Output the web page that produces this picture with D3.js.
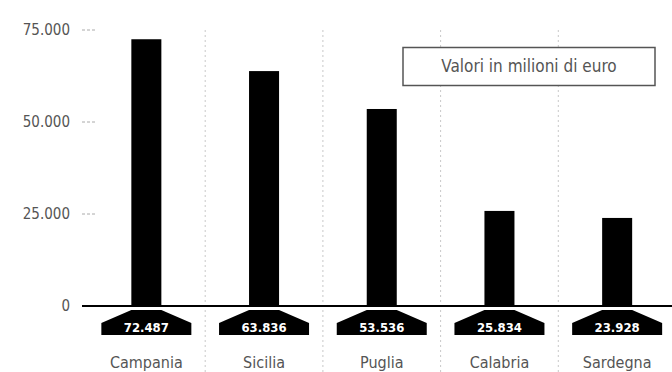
<!DOCTYPE html>
<html>
<head>
<meta charset="utf-8">
<script src="https://cdn.jsdelivr.net/npm/d3@7"></script>
<style>
  body { margin: 0; background: #fff; }
  svg { display: block; }
  text { font-family: "DejaVu Sans Condensed", "Liberation Sans Narrow", "Roboto", sans-serif; }
</style>
</head>
<body>
<div id="chart"></div>
<script>
// data
const regions = ["Campania", "Sicilia", "Puglia", "Calabria", "Sardegna"];
const values = [72487, 63836, 53536, 25834, 23928];
const valueLabels = ["72.487", "63.836", "53.536", "25.834", "23.928"];
const yTicks = [0, 25000, 50000, 75000];
const yTickLabels = ["0", "25.000", "50.000", "75.000"];
const noteText = "Valori in milioni di euro";

const width = 672;
const height = 372;

const svg = d3.select("#chart")
  .append("svg")
  .attr("width", width)
  .attr("height", height);

const x = d3.scaleBand()
  .domain(regions)
  .range([87.5, 676])
  .padding(0);

const y = d3.scaleLinear()
  .domain([0, 75000])
  .range([306, 30]);

const barW = x.bandwidth() * 0.255;

// dotted separators between categories
svg.selectAll(".sep")
  .data(regions.slice(1))
  .enter()
  .append("line")
  .attr("x1", d => x(d))
  .attr("x2", d => x(d))
  .attr("y1", 30)
  .attr("y2", height)
  .attr("stroke", "#c8c8c8")
  .attr("stroke-width", 1)
  .attr("stroke-dasharray", "2,3");

// y tick marks and labels
const tickData = yTicks.map((t, i) => ({ v: t, label: yTickLabels[i] }));

svg.selectAll(".tick-mark")
  .data(tickData.filter(d => d.v > 0))
  .enter()
  .append("line")
  .attr("x1", 82)
  .attr("x2", 97)
  .attr("y1", d => y(d.v))
  .attr("y2", d => y(d.v))
  .attr("stroke", "#aaa")
  .attr("stroke-width", 1)
  .attr("stroke-dasharray", "3,2");

svg.selectAll(".tick-label")
  .data(tickData)
  .enter()
  .append("text")
  .attr("x", 70)
  .attr("y", d => y(d.v) + 5)
  .attr("text-anchor", "end")
  .attr("font-size", 15)
  .attr("fill", "#555")
  .text(d => d.label);

// bars
svg.selectAll(".bar")
  .data(values)
  .enter()
  .append("rect")
  .attr("x", (d, i) => x(regions[i]) + x.bandwidth() / 2 - barW / 2)
  .attr("y", d => y(d))
  .attr("width", barW)
  .attr("height", d => y(0) - y(d))
  .attr("fill", "#000");

// value badges under the baseline
const badgeHalf = 45;
svg.selectAll(".badge")
  .data(values)
  .enter()
  .append("path")
  .attr("d", (d, i) => {
    const cx = x(regions[i]) + x.bandwidth() / 2;
    const y0 = y(0);
    return d3.line()([
      [cx - barW / 2, y0 + 4],
      [cx + barW / 2, y0 + 4],
      [cx + badgeHalf, y0 + 17],
      [cx + badgeHalf, y0 + 29],
      [cx - badgeHalf, y0 + 29],
      [cx - badgeHalf, y0 + 17]
    ]) + "Z";
  })
  .attr("fill", "#000");

// zero line
svg.append("line")
  .attr("x1", 82)
  .attr("x2", width)
  .attr("y1", y(0))
  .attr("y2", y(0))
  .attr("stroke", "#000")
  .attr("stroke-width", 2);

svg.selectAll(".badge-label")
  .data(valueLabels)
  .enter()
  .append("text")
  .attr("x", (d, i) => x(regions[i]) + x.bandwidth() / 2)
  .attr("y", y(0) + 26)
  .attr("text-anchor", "middle")
  .attr("font-size", 13)
  .attr("font-weight", "bold")
  .attr("fill", "#fff")
  .text(d => d);

// category labels
svg.selectAll(".cat")
  .data(regions)
  .enter()
  .append("text")
  .attr("x", d => x(d) + x.bandwidth() / 2)
  .attr("y", 368)
  .attr("text-anchor", "middle")
  .attr("font-size", 16)
  .attr("fill", "#555")
  .text(d => d);

// note box
svg.append("rect")
  .attr("x", 403)
  .attr("y", 47.5)
  .attr("width", 252)
  .attr("height", 38)
  .attr("fill", "#fff")
  .attr("stroke", "#555")
  .attr("stroke-width", 1.5);

svg.append("text")
  .attr("x", 529)
  .attr("y", 72)
  .attr("text-anchor", "middle")
  .attr("font-size", 17)
  .attr("fill", "#555")
  .text(noteText);
</script>
</body>
</html>
